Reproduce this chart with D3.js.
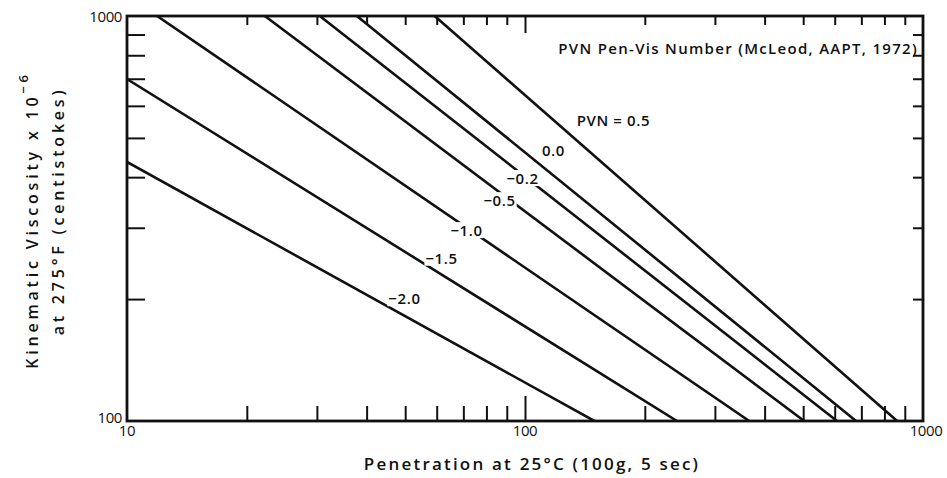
<!DOCTYPE html>
<html><head><meta charset="utf-8">
<script src="https://cdn.jsdelivr.net/npm/d3@7/dist/d3.min.js"></script>
<style>
body{margin:0;background:#fff;}
text{font-family:"Open Sans","DejaVu Sans",sans-serif;fill:#111;}
</style></head>
<body><svg id="c" width="947" height="478"></svg>
<script>
// PVN lines: each straight on log-log axes, given by two end points (penetration, viscosity)
const pvnValues = [0.5, 0.0, -0.2, -0.5, -1.0, -1.5, -2.0];
const startPen  = [59.3, 37.8, 30.5, 22.2, 11.9, 10, 10];
const startVis  = [1000, 1000, 1000, 1000, 1000, 699, 436];
const endPen    = [861, 679, 608, 503, 366, 241, 149.4];
const endVis    = [100, 100, 100, 100, 100, 100, 100];
const labelText = ["PVN = 0.5", "0.0", "\u22120.2", "\u22120.5", "\u22121.0", "\u22121.5", "\u22122.0"];
const labelPen  = [166.8, 117.9, 98.6, 86.3, 71.3, 61.7, 49.8];
const labelVis  = [553, 467, 398, 351, 296, 253, 201];
const xTickLabels = [10, 100, 1000];
const yTickLabels = [100, 1000];
const xMinor = [20,30,40,50,60,70,80,90,200,300,400,500,600,700,800,900];
const yMinor = [200,300,400,500,600,700,800,900];

const L = 127, R = 923, T = 16, B = 421;
const svg = d3.select("#c");
const x = d3.scaleLog().domain([10, 1000]).range([L, R]);
const y = d3.scaleLog().domain([100, 1000]).range([B, T]);

function styleAxis(g){ g.select(".domain").remove(); g.selectAll(".tick line").attr("stroke","#111").attr("stroke-width",2); g.selectAll(".tick text").remove(); }

svg.append("g").attr("transform",`translate(0,${B})`).call(d3.axisBottom(x).tickValues(xMinor).tickSize(-15).tickFormat("")).call(styleAxis);
svg.append("g").attr("transform",`translate(0,${B})`).call(d3.axisBottom(x).tickValues([100]).tickSize(-25).tickFormat("")).call(styleAxis);
svg.append("g").attr("transform",`translate(0,${T})`).call(d3.axisTop(x).tickValues(xMinor).tickSize(-9).tickFormat("")).call(styleAxis);
svg.append("g").attr("transform",`translate(0,${T})`).call(d3.axisTop(x).tickValues([100]).tickSize(-17).tickFormat("")).call(styleAxis);
svg.append("g").attr("transform",`translate(${L},0)`).call(d3.axisLeft(y).tickValues(yMinor).tickSize(-18).tickFormat("")).call(styleAxis);
svg.append("g").attr("transform",`translate(${R},0)`).call(d3.axisRight(y).tickValues(yMinor).tickSize(-10).tickFormat("")).call(styleAxis);

svg.append("defs").append("clipPath").attr("id","clip").append("rect").attr("x",L).attr("y",T).attr("width",R-L).attr("height",B-T);

const line = d3.line().x(d=>x(d[0])).y(d=>y(d[1]));
const lines = pvnValues.map((v,i)=>[[startPen[i],startVis[i]],[endPen[i],endVis[i]]]);
svg.append("g").attr("clip-path","url(#clip)").selectAll("path").data(lines).join("path")
  .attr("d",line).attr("fill","none").attr("stroke","#111").attr("stroke-width",2.6);

// labels on white boxes (breaks the lines where labels sit on them)
const lg = svg.append("g");
const bg = lg.append("g");
const lt = lg.append("g").selectAll("text").data(labelText).join("text")
  .attr("x",(d,i)=>x(labelPen[i])).attr("y",(d,i)=>y(labelVis[i]))
  .attr("text-anchor","middle").attr("dominant-baseline","central")
  .attr("font-size",15).attr("font-weight",600).attr("letter-spacing",0.6)
  .text(d=>d);
lt.each(function(){
  const b = this.getBBox();
  bg.append("rect").attr("x",b.x-1).attr("y",b.y+2).attr("width",b.width+2).attr("height",b.height-4).attr("fill","#fff");
});

svg.append("rect").attr("x",L).attr("y",T).attr("width",R-L).attr("height",B-T)
  .attr("fill","none").attr("stroke","#111").attr("stroke-width",2.8);

// tick labels
svg.selectAll(".xl").data(xTickLabels).join("text").attr("class","xl")
  .attr("x",d=>x(d)+(d===1000?3:0)).attr("y",B+15).attr("text-anchor","middle")
  .attr("font-size",15).attr("letter-spacing",-0.4).text(d=>d);
svg.selectAll(".yl").data(yTickLabels).join("text").attr("class","yl")
  .attr("x",L-5).attr("y",d=>y(d)+(d===100?-4:0)).attr("text-anchor","end").attr("dominant-baseline","central")
  .attr("font-size",15).attr("letter-spacing",-0.4).text(d=>d);

// titles
svg.append("text").attr("x",918).attr("y",48).attr("text-anchor","end").attr("dominant-baseline","central")
  .attr("font-size",15).attr("font-weight",600).attr("letter-spacing",1.3).text("PVN Pen-Vis Number (McLeod, AAPT, 1972)");

svg.append("text").attr("x",532).attr("y",463).attr("text-anchor","middle").attr("dominant-baseline","central")
  .attr("font-size",17).attr("font-weight",600).attr("letter-spacing",2.2).text("Penetration at 25\u00B0C (100g, 5 sec)");

const yt = svg.append("text").attr("transform","translate(38,220) rotate(-90)").attr("text-anchor","middle")
  .attr("font-size",16).attr("font-weight",600).attr("letter-spacing",3.8);
yt.append("tspan").text("Kinematic Viscosity x 10");
yt.append("tspan").attr("dy",-10).attr("font-size",13).text("\u22126");
svg.append("text").attr("transform","translate(64,211) rotate(-90)").attr("text-anchor","middle")
  .attr("font-size",16).attr("font-weight",600).attr("letter-spacing",3.8).text("at 275\u00B0F (centistokes)");
</script></body></html>
